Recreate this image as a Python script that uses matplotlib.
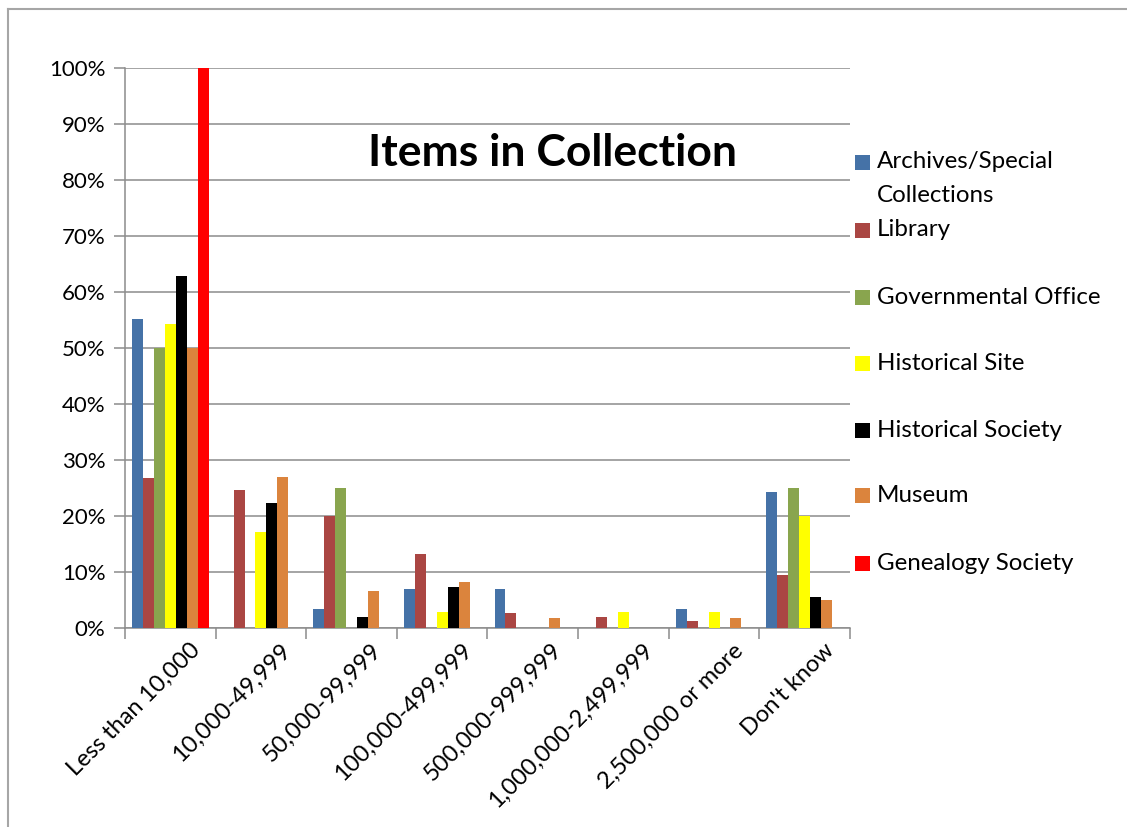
import matplotlib
matplotlib.use("Agg")
import matplotlib.pyplot as plt
import numpy as np
from matplotlib.patches import Rectangle
from matplotlib.lines import Line2D
import matplotlib.transforms as mtransforms

plt.rcParams['font.family'] = ['Lato', 'DejaVu Sans']

categories = ["Less than 10,000", "10,000-49,999", "50,000-99,999", "100,000-499,999",
              "500,000-999,999", "1,000,000-2,499,999", "2,500,000 or more", "Don't know"]

series_names = ["Archives/Special\nCollections", "Library", "Governmental Office",
                "Historical Site", "Historical Society", "Museum", "Genealogy Society"]
series_colors = ["#4572A7", "#AA4643", "#89A54E", "#FFFF00", "#000000", "#DB843D", "#FF0000"]

archives = [55.2, 0.0, 3.4, 7.0, 7.0, 0.0, 3.4, 24.2]
library = [26.7, 24.6, 20.0, 13.3, 2.6, 2.0, 1.3, 9.4]
governmental = [50.0, 0.0, 25.0, 0.0, 0.0, 0.0, 0.0, 25.0]
historical_site = [54.3, 17.2, 0.0, 2.9, 0.0, 2.9, 2.9, 20.0]
historical_society = [62.9, 22.3, 2.0, 7.4, 0.0, 0.0, 0.0, 5.6]
museum = [50.0, 27.0, 6.6, 8.2, 1.7, 0.0, 1.7, 5.0]
genealogy = [100.0, 0.0, 0.0, 0.0, 0.0, 0.0, 0.0, 0.0]

series_values = [archives, library, governmental, historical_site,
                 historical_society, museum, genealogy]

W, H = 1127, 827
fig = plt.figure(figsize=(W / 100, H / 100), dpi=100)
fig.patch.set_facecolor("white")

# plot area in pixel terms
left, right, top, bottom = 125, 850, 68, 628
ax = fig.add_axes([left / W, 1 - bottom / H, (right - left) / W, (bottom - top) / H])

n_cat = len(categories)
n_ser = len(series_values)
x = np.arange(n_cat)
group_w = 0.845
bar_w = group_w / n_ser
for i, (vals, col) in enumerate(zip(series_values, series_colors)):
    offs = -group_w / 2 + bar_w * (i + 0.5)
    ax.bar(x + offs, vals, width=bar_w, color=col, edgecolor="none", zorder=3)

ax.set_xlim(-0.5, n_cat - 0.5)
ax.set_ylim(0, 100)

grid_col = "#8C8C8C"
ax.set_yticks(np.arange(0, 101, 10))
ax.set_yticklabels([f"{v}%" for v in range(0, 101, 10)], fontsize=16)
ax.yaxis.grid(True, color=grid_col, linewidth=1.1, zorder=0)
ax.set_axisbelow(True)

ax.set_xticks(np.arange(-0.5, n_cat, 1.0))
ax.set_xticklabels([])
ax.tick_params(axis='x', direction='out', length=8, color=grid_col, width=1.1)
ax.tick_params(axis='y', direction='out', length=8, color=grid_col, width=1.1, pad=6)

for s in ["top", "right"]:
    ax.spines[s].set_visible(False)
for s in ["left", "bottom"]:
    ax.spines[s].set_color(grid_col)
    ax.spines[s].set_linewidth(1.1)

# rotated category labels
offset = mtransforms.ScaledTranslation(0.26, -0.19, fig.dpi_scale_trans)
for xi, lab in zip(x, categories):
    ax.text(xi, 0, lab, rotation=45, rotation_mode='anchor', ha='right', va='center',
            fontsize=17, transform=ax.get_xaxis_transform() + offset, clip_on=False)

# title
fig.text(553 / W, 1 - 153 / H, "Items in Collection", fontsize=32, fontweight='bold',
         ha='center', va='center')

# legend entries
label_y = [162, 230, 297, 363, 430, 496, 563]
for name, col, yy in zip(series_names, series_colors, label_y):
    sq = 15
    fig.patches.append(Rectangle((855 / W, 1 - (yy + sq / 2) / H), sq / W, sq / H,
                                 transform=fig.transFigure, facecolor=col, edgecolor='none'))
    if '\n' in name:
        first, second = name.split('\n')
        fig.text(877 / W, 1 - yy / H, first, fontsize=17.4, ha='left', va='center')
        fig.text(877 / W, 1 - (yy + 33) / H, second, fontsize=17.4, ha='left', va='center')
    else:
        fig.text(877 / W, 1 - yy / H, name, fontsize=17.4, ha='left', va='center')

# outer frame (top and left edges)
fig.add_artist(Line2D([8 / W, 1], [1 - 9 / H, 1 - 9 / H], transform=fig.transFigure,
                      color="#A6A6A6", linewidth=1.5))
fig.add_artist(Line2D([8 / W, 8 / W], [0, 1 - 9 / H], transform=fig.transFigure,
                      color="#A6A6A6", linewidth=1.5))

fig.savefig("out.png", dpi=100, facecolor="white")
